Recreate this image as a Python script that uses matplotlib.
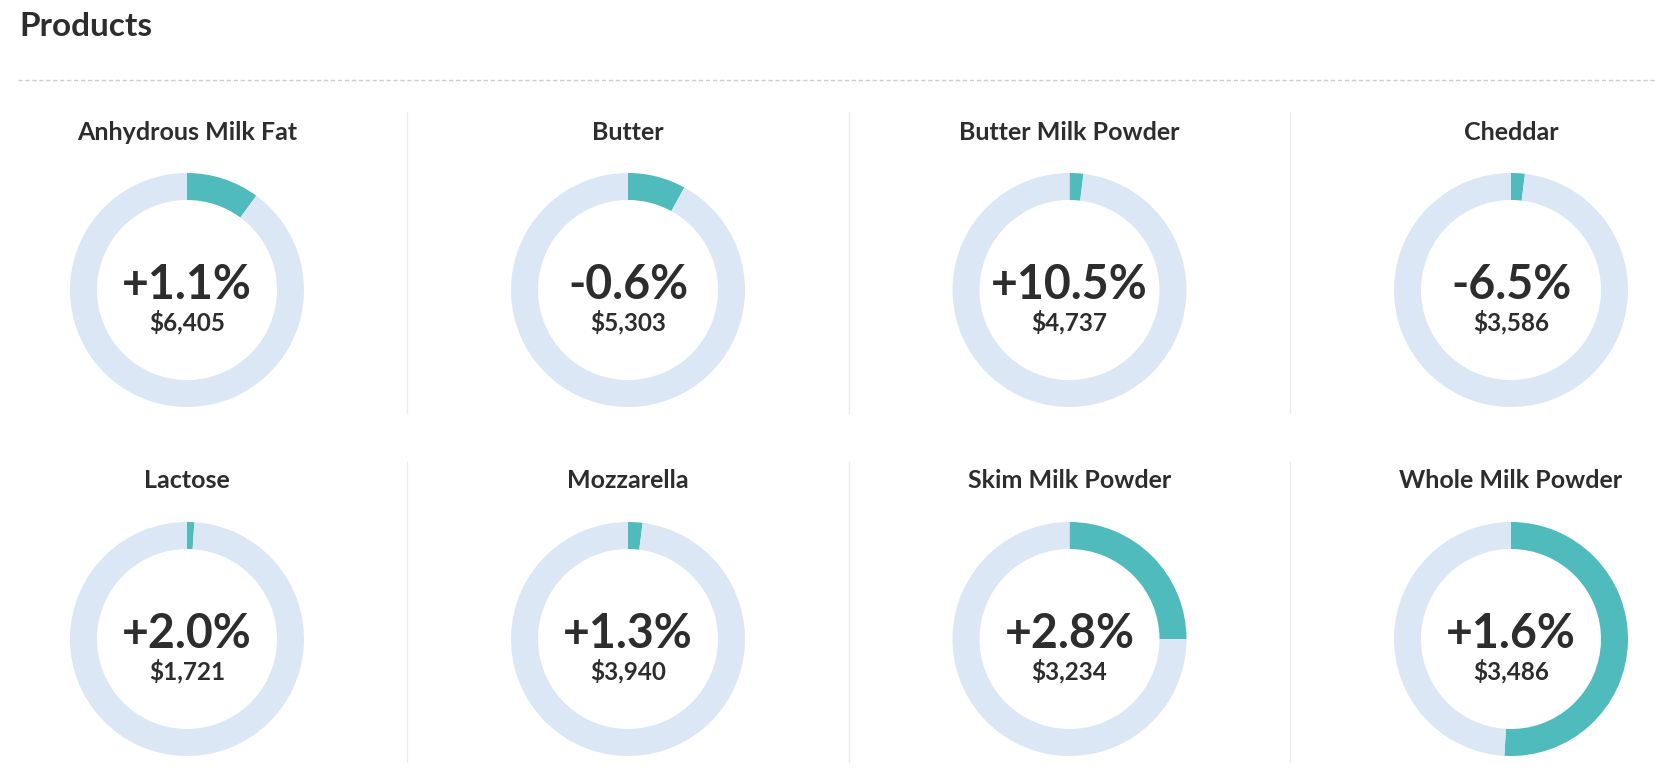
import matplotlib.pyplot as plt
from matplotlib.lines import Line2D

products = ["Anhydrous Milk Fat", "Butter", "Butter Milk Powder", "Cheddar",
            "Lactose", "Mozzarella", "Skim Milk Powder", "Whole Milk Powder"]
changes = ["+1.1%", "-0.6%", "+10.5%", "-6.5%", "+2.0%", "+1.3%", "+2.8%", "+1.6%"]
prices = ["$6,405", "$5,303", "$4,737", "$3,586", "$1,721", "$3,940", "$3,234", "$3,486"]
# share of the ring drawn in teal
shares = [0.101, 0.080, 0.019, 0.019, 0.010, 0.020, 0.250, 0.509]

W, H = 1655, 775
TEAL = "#4fbbbc"
LIGHT = "#dce7f5"
DARK = "#2d2d2d"

plt.rcParams['font.family'] = ['Lato', 'DejaVu Sans']

fig = plt.figure(figsize=(W / 100, H / 100), dpi=100)
fig.patch.set_facecolor("white")

# header
fig.text(19 / W, 1 - 27 / H, "Products", fontsize=24, fontweight="bold",
         color=DARK, va="center", ha="left")
fig.add_artist(Line2D([18 / W, 1.0], [1 - 80 / H, 1 - 80 / H], color="#cccccc",
                      lw=1, linestyle=(0, (3, 2))))

col_x = [187, 628, 1069.5, 1511]
row_y = [290, 639]
title_y = [132, 481]
outer_r = 117
ring_w = 27
box = 300  # axes size in px

# vertical separators between columns
for sx in [407, 849, 1290]:
    for y0, y1 in [(112, 413), (462, 762)]:
        fig.add_artist(Line2D([sx / W, sx / W], [1 - y0 / H, 1 - y1 / H],
                              color="#ececec", lw=1))

for i, name in enumerate(products):
    r, c = divmod(i, 4)
    cx, cy = col_x[c], row_y[r]
    ax = fig.add_axes([(cx - box / 2) / W, 1 - (cy + box / 2) / H, box / W, box / H])
    ax.pie([shares[i], 1 - shares[i]], colors=[TEAL, LIGHT], startangle=90,
           counterclock=False, radius=1,
           wedgeprops=dict(width=ring_w / outer_r, linewidth=0))
    lim = box / 2 / outer_r
    ax.set_xlim(-lim, lim)
    ax.set_ylim(-lim, lim)
    ax.set_aspect("equal")
    ax.axis("off")
    ax.text(0, 5 / outer_r, changes[i], fontsize=33.5, fontweight="bold",
            color=DARK, ha="center", va="center")
    ax.text(0, -32 / outer_r, prices[i], fontsize=17.5, fontweight="bold",
            color=DARK, ha="center", va="center")
    fig.text(cx / W, 1 - title_y[r] / H, name, fontsize=18, fontweight="bold",
             color=DARK, ha="center", va="center")

fig.savefig("out.png", dpi=100, facecolor="white")
